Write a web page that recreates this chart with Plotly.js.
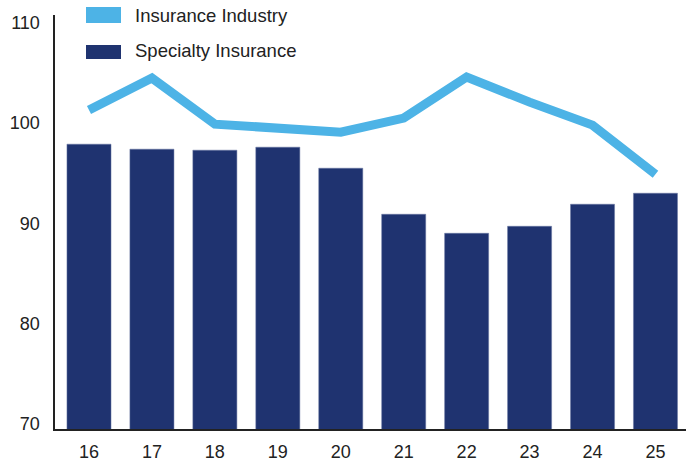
<!DOCTYPE html>
<html>
<head>
<meta charset="utf-8">
<script src="https://cdn.plot.ly/plotly-3.0.1.min.js"></script>
<style>html,body{margin:0;padding:0;background:#fff;}#chart{width:692px;height:464px;}</style>
</head>
<body>
<div id="chart"></div>
<script>
const categories = ['16','17','18','19','20','21','22','23','24','25'];
const specialtyInsurance = [97.9, 97.4, 97.3, 97.6, 95.5, 90.9, 89.0, 89.7, 91.9, 93.0];
const insuranceIndustry = [101.3, 104.5, 99.9, 99.5, 99.1, 100.5, 104.6, 102.1, 99.8, 94.9];
const yTickValues = [70, 80, 90, 100, 110];
const legendLabels = ['Insurance Industry', 'Specialty Insurance'];

const lineColor = '#4DB3E6';
const barColor = '#1F3370';
const fontFamily = 'Liberation Sans, Arial, sans-serif';

const traces = [
  {
    type: 'bar', x: categories, y: specialtyInsurance, name: legendLabels[1],
    marker: {color: barColor, line: {color: '#6b78a3', width: 0.5}},
    showlegend: false, hoverinfo: 'skip'
  },
  {
    type: 'scatter', mode: 'lines', x: categories, y: insuranceIndustry, name: legendLabels[0],
    line: {color: lineColor, width: 9, shape: 'linear'},
    showlegend: false, hoverinfo: 'skip'
  }
];

const layout = {
  width: 692, height: 464,
  margin: {l: 55, r: 6, t: 15, b: 35, pad: 0},
  paper_bgcolor: '#fff', plot_bgcolor: '#fff',
  bargap: 0.3,
  showlegend: false,
  font: {family: fontFamily, color: '#222', size: 18},
  xaxis: {
    type: 'category', range: [-0.54, 9.485],
    showgrid: false, zeroline: false,
    showline: true, linecolor: '#222', linewidth: 2,
    ticks: '', ticklabelstandoff: 5,
    tickfont: {family: fontFamily, size: 18, color: '#222'}
  },
  yaxis: {
    range: [69.45, 110.8],
    tickvals: yTickValues,
    showgrid: false, zeroline: false,
    showline: true, linecolor: '#222', linewidth: 2.5,
    ticks: '', ticklabelstandoff: 9,
    tickfont: {family: fontFamily, size: 18, color: '#222'}
  },
  shapes: [
    {type: 'rect', xref: 'paper', yref: 'paper', x0: 31/631, x1: 66/631, y0: 1 - (23 - 15)/414, y1: 1 - (7 - 15)/414, fillcolor: lineColor, line: {width: 0}},
    {type: 'rect', xref: 'paper', yref: 'paper', x0: 31/631, x1: 66/631, y0: 1 - (59 - 15)/414, y1: 1 - (45 - 15)/414, fillcolor: barColor, line: {width: 0}}
  ],
  annotations: [
    {xref: 'paper', yref: 'paper', x: 78/631, y: 1 - (15 - 15)/414, xanchor: 'left', yanchor: 'middle', showarrow: false,
     text: legendLabels[0], font: {family: fontFamily, size: 18.5, color: '#222'}},
    {xref: 'paper', yref: 'paper', x: 78/631, y: 1 - (51 - 15)/414, xanchor: 'left', yanchor: 'middle', showarrow: false,
     text: legendLabels[1], font: {family: fontFamily, size: 18.5, color: '#222'}}
  ]
};

Plotly.newPlot('chart', traces, layout, {displayModeBar: false, staticPlot: true});
</script>
</body>
</html>
